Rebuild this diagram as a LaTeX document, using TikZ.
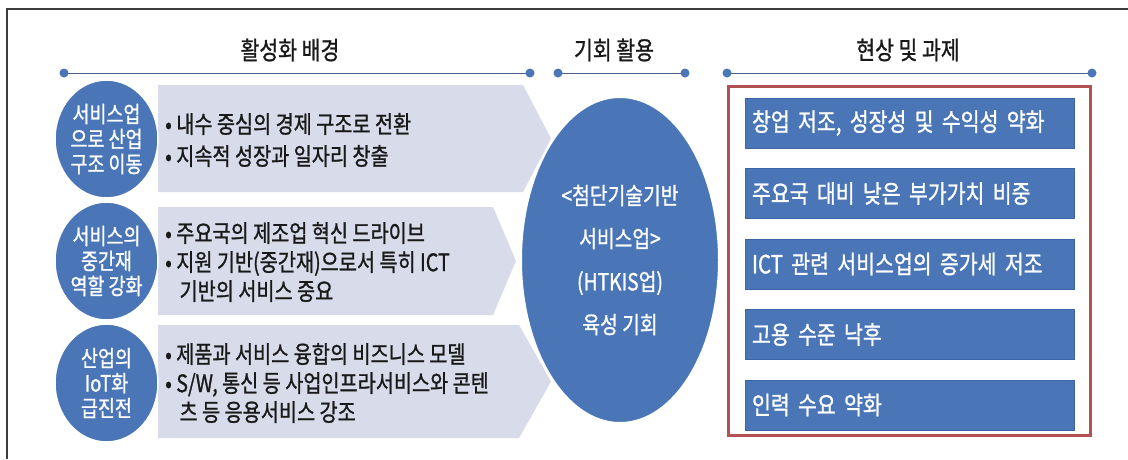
\documentclass[tikz,border=0pt]{standalone}
\usepackage{fontspec}
\setmainfont{Noto Sans CJK KR}[FakeStretch=0.82, FakeBold=1.0]
\usetikzlibrary{shapes.geometric}
\definecolor{bblue}{RGB}{74,118,184}
\definecolor{bedge}{RGB}{62,100,168}
\definecolor{chev}{RGB}{216,220,234}
\definecolor{redb}{RGB}{178,82,80}
\definecolor{hlinec}{RGB}{70,95,140}
\definecolor{framec}{RGB}{60,60,60}
\definecolor{txt}{RGB}{25,25,25}
\begin{document}
\begin{tikzpicture}[x=1pt,y=-1pt,
  hdr/.style={font=\fontsize{25}{28}\selectfont, text=txt, inner sep=0},
  hl/.style={draw=hlinec, line width=1},
  hdot/.style={fill=bblue, draw=none},
  chevshape/.style={fill=chev, draw=none},
  bul/.style={text=txt, align=left, anchor=west, inner sep=0},
  circ/.style={ellipse, fill=bblue, draw=white, line width=1.5, minimum width=103pt, minimum height=118pt, inner sep=0, text=white, align=center, font=\fontsize{22.5}{25}\selectfont},
  bigell/.style={ellipse, fill=bblue, draw=white, line width=2, minimum width=198pt, minimum height=326pt, inner sep=0, text=white, align=center, font=\fontsize{23.5}{43}\selectfont},
  bar/.style={fill=bblue, draw=bedge, line width=0.8, minimum height=50pt, text width=315pt, inner xsep=7pt, inner ysep=0, align=left, text=white, font=\fontsize{25}{28}\selectfont}
]
\useasboundingbox (0,0) rectangle (1128,459);
\fill[white] (0,0) rectangle (1128,459);
% frame
\draw[framec, line width=1.5] (7,459) -- (7,9) -- (1128,9);

% headers
\node[hdr] (h1) at (290,50) {활성화 배경};
\node[hdr] (h2) at (614,50) {기회 활용};
\node[hdr] (h3) at (908,50) {현상 및 과제};
\coordinate (l1a) at (64,73); \coordinate (l1b) at (530,73);
\coordinate (l2a) at (558,73); \coordinate (l2b) at (685,73);
\coordinate (l3a) at (727,73); \coordinate (l3b) at (1092,73);
\draw[hl] (l1a) -- (l1b);
\draw[hl] (l2a) -- (l2b);
\draw[hl] (l3a) -- (l3b);
\foreach \p in {l1a,l1b,l2a,l2b,l3a,l3b} \fill[hdot] (\p) circle (4.5pt);

% chevrons
\fill[chevshape] (158,85) -- (523,85) -- (551,138.5) -- (523,192) -- (158,192) -- cycle;
\fill[chevshape] (158,207) -- (493,207) -- (516,261) -- (493,315) -- (158,315) -- cycle;
\fill[chevshape] (158,325) -- (519,325) -- (551,381.5) -- (519,438) -- (158,438) -- cycle;

% bullet texts
\node[bul, font=\fontsize{24}{32}\selectfont] (t1) at (165,140) {• 내수 중심의 경제 구조로 전환\\• 지속적 성장과 일자리 창출};
\node[bul, font=\fontsize{24}{29}\selectfont] (t2) at (165,262) {• 주요국의 제조업 혁신 드라이브\\• 지원 기반(중간재)으로서 특히 ICT\\\hspace*{0.6em}기반의 서비스 중요};
\node[bul, font=\fontsize{24}{29}\selectfont] (t3) at (165,383) {• 제품과 서비스 융합의 비즈니스 모델\\• S/W, 통신 등 사업인프라서비스와 콘텐\\\hspace*{0.6em}츠 등 응용서비스 강조};

% circles
\node[circ] (c1) at (106.5,139) {서비스업\\으로 산업\\구조 이동};
\node[circ] (c2) at (106.5,261) {서비스의\\중간재\\역할 강화};
\node[circ] (c3) at (106.5,383) {산업의\\IoT화\\급진전};

% big ellipse
\node[bigell] (e) at (620,260) {<첨단기술기반\\서비스업>\\(HTKIS업)\\육성 기회};

% red box
\draw[redb, line width=3] (728.5,86.5) rectangle (1090.5,435.5);

% bars
\node[bar] (b1) at (909.5,123) {창업 저조, 성장성 및 수익성 약화};
\node[bar] (b2) at (909.5,193.5) {주요국 대비 낮은 부가가치 비중};
\node[bar] (b3) at (909.5,264) {ICT 관련 서비스업의 증가세 저조};
\node[bar] (b4) at (909.5,334.5) {고용 수준 낙후};
\node[bar] (b5) at (909.5,405) {인력 수요 약화};
\end{tikzpicture}
\end{document}
